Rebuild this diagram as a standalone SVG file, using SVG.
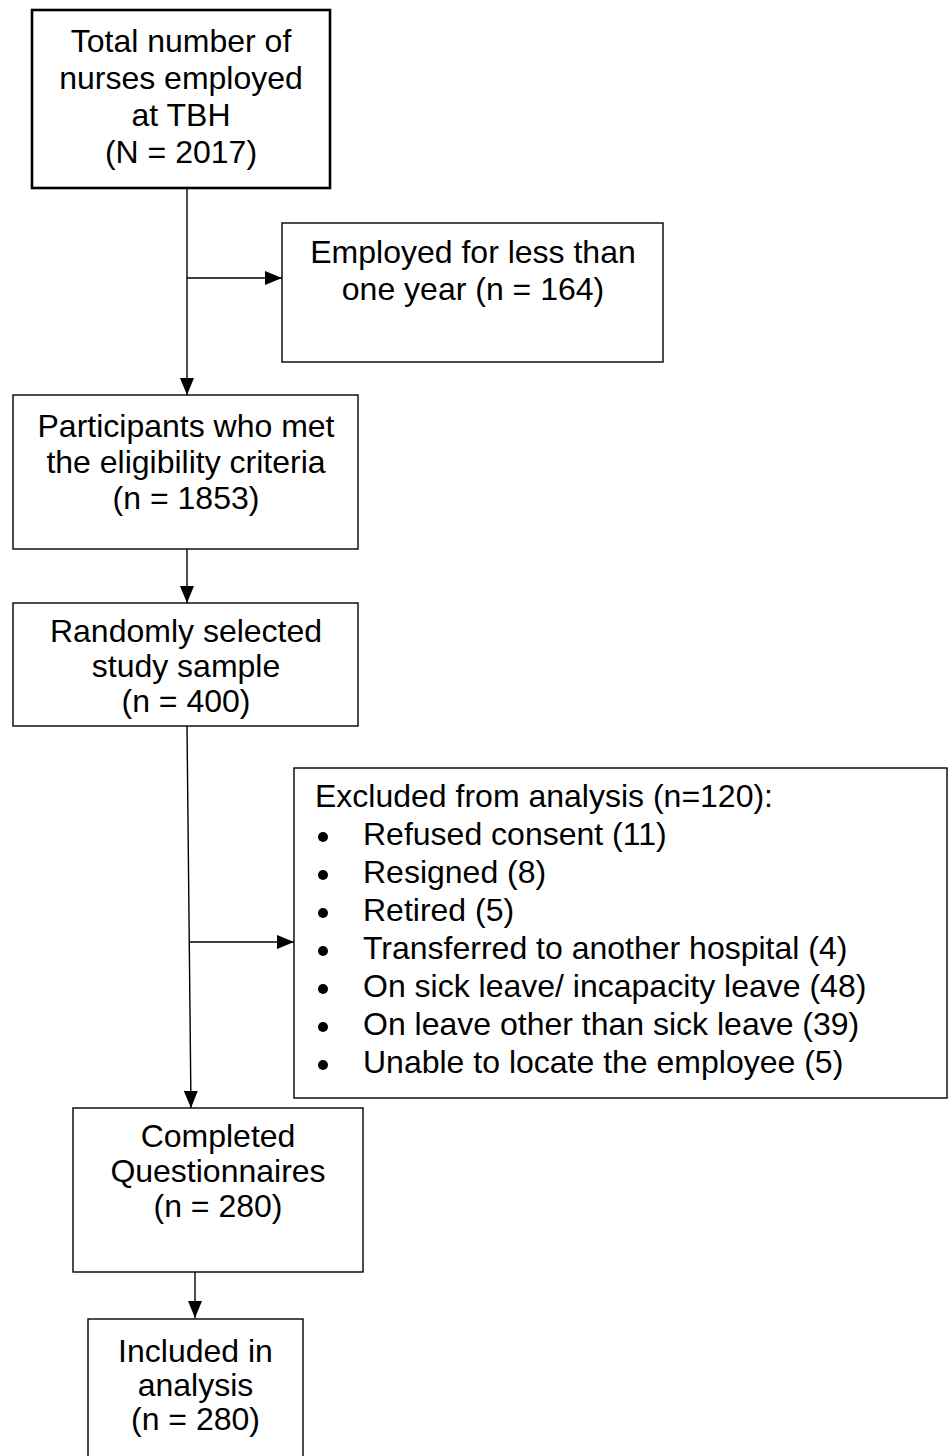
<svg xmlns="http://www.w3.org/2000/svg" width="949" height="1456" viewBox="0 0 949 1456">
<style>
.box{fill:#fff;stroke:#000;stroke-width:1.4}
.thick{stroke-width:2.6}
.t{font-family:"Liberation Sans",Arial,sans-serif;font-size:32px;fill:#000}
.c{text-anchor:middle}
.ln{stroke:#000;stroke-width:1.4;fill:none;marker-end:url(#ah)}
</style>
<defs>
<marker id="ah" markerUnits="userSpaceOnUse" markerWidth="18" markerHeight="14" refX="17" refY="7" orient="auto">
<path d="M0,0 L17,7 L0,14 Z" fill="#000"/>
</marker>
</defs>
<g id="connectors">
<line class="ln" x1="187" y1="188" x2="187" y2="395"/>
<line class="ln" x1="187" y1="278" x2="282" y2="278"/>
<line class="ln" x1="187" y1="549" x2="187" y2="603"/>
<line class="ln" x1="187" y1="726" x2="191" y2="1108"/>
<line class="ln" x1="190" y1="942" x2="294" y2="942"/>
<line class="ln" x1="195" y1="1272" x2="195" y2="1318"/>
</g>
<g id="n1">
<rect class="box thick" x="32" y="10" width="298" height="178"/>
<text class="t c" x="181" y="52">Total number of</text>
<text class="t c" x="181" y="89">nurses employed</text>
<text class="t c" x="181" y="126">at TBH</text>
<text class="t c" x="181" y="163">(N = 2017)</text>
</g>
<g id="n2">
<rect class="box" x="282" y="223" width="381" height="139"/>
<text class="t c" x="473" y="263">Employed for less than</text>
<text class="t c" x="473" y="300">one year (n = 164)</text>
</g>
<g id="n3">
<rect class="box" x="13" y="395" width="345" height="154"/>
<text class="t c" x="186" y="437">Participants who met</text>
<text class="t c" x="186" y="473">the eligibility criteria</text>
<text class="t c" x="186" y="509">(n = 1853)</text>
</g>
<g id="n4">
<rect class="box" x="13" y="603" width="345" height="123"/>
<text class="t c" x="186" y="642">Randomly selected</text>
<text class="t c" x="186" y="677">study sample</text>
<text class="t c" x="186" y="712">(n = 400)</text>
</g>
<g id="n5">
<rect class="box" x="294" y="768" width="653" height="330"/>
<text class="t" x="315" y="807">Excluded from analysis (n=120):</text>
<g>
<circle cx="323" cy="837" r="5"/>
<circle cx="323" cy="875" r="5"/>
<circle cx="323" cy="913" r="5"/>
<circle cx="323" cy="951" r="5"/>
<circle cx="323" cy="989" r="5"/>
<circle cx="323" cy="1027" r="5"/>
<circle cx="323" cy="1065" r="5"/>
</g>
<text class="t" x="363" y="845">Refused consent (11)</text>
<text class="t" x="363" y="883">Resigned (8)</text>
<text class="t" x="363" y="921">Retired (5)</text>
<text class="t" x="363" y="959">Transferred to another hospital (4)</text>
<text class="t" x="363" y="997">On sick leave/ incapacity leave (48)</text>
<text class="t" x="363" y="1035">On leave other than sick leave (39)</text>
<text class="t" x="363" y="1073">Unable to locate the employee (5)</text>
</g>
<g id="n6">
<rect class="box" x="73" y="1108" width="290" height="164"/>
<text class="t c" x="218" y="1147">Completed</text>
<text class="t c" x="218" y="1182">Questionnaires</text>
<text class="t c" x="218" y="1217">(n = 280)</text>
</g>
<g id="n7">
<rect class="box" x="88" y="1319" width="215" height="160"/>
<text class="t c" x="195.5" y="1362">Included in</text>
<text class="t c" x="195.5" y="1396">analysis</text>
<text class="t c" x="195.5" y="1430">(n = 280)</text>
</g>
</svg>
